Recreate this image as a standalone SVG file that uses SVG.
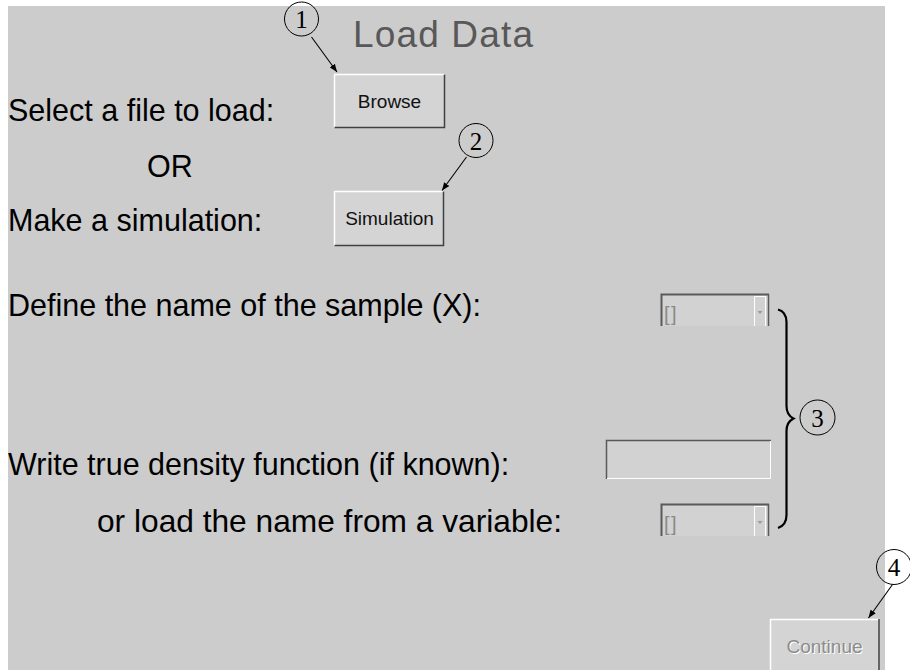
<svg xmlns="http://www.w3.org/2000/svg" width="910" height="670" viewBox="0 0 910 670">
<defs>
<style>
.lbl{font-family:"Liberation Sans",Arial,sans-serif;font-size:30.5px;fill:#000}
.btn{font-family:"Liberation Sans",Arial,sans-serif;font-size:19px;fill:#111;text-anchor:middle}
.face{fill:#d4d4d4}
.hi{fill:none;stroke:#fff;stroke-width:1.5}
.lo{fill:none;stroke:#404040;stroke-width:1.5}
.num{font-family:"Liberation Serif","DejaVu Serif",serif;font-size:25px;fill:#000;text-anchor:middle}
.circ{fill:none;stroke:#000;stroke-width:1}
.conn{fill:none;stroke:#000;stroke-width:1.1}
.combo{font-family:"Liberation Sans",Arial,sans-serif;font-size:20px;fill:#8a8a8a;letter-spacing:1.5px}
</style>
<marker id="ah" viewBox="0 0 10 10" refX="10" refY="5" markerWidth="8" markerHeight="8" orient="auto" markerUnits="userSpaceOnUse">
<path d="M0,1 L10,5 L0,9 z" fill="#000"/>
</marker>
</defs>
<rect x="8" y="6" width="877" height="664" fill="#cccccc"/>
<text x="353" y="47" font-family="'Liberation Sans',Arial,sans-serif" font-size="37" fill="#585858" textLength="180">Load Data</text>
<text class="lbl" x="8" y="121">Select a file to load:</text>
<text class="lbl" x="147" y="177">OR</text>
<text class="lbl" x="8" y="231">Make a simulation:</text>
<text class="lbl" x="8" y="316">Define the name of the sample (X):</text>
<text class="lbl" x="8" y="475">Write true density function (if known):</text>
<text class="lbl" x="97" y="532" style="font-size:31.7px">or load the name from a variable:</text>

<g id="browse">
<rect class="face" x="334" y="74" width="111" height="54"/>
<polyline class="hi" points="334.5,128 334.5,74.5 445,74.5"/>
<polyline class="lo" points="334.5,127.5 444.5,127.5 444.5,74.5"/>
<text class="btn" x="389.5" y="108">Browse</text>
</g>
<g id="simulation">
<rect class="face" x="334" y="191" width="110" height="55"/>
<polyline class="hi" points="334.5,246 334.5,191.5 444,191.5"/>
<polyline class="lo" points="334.5,245.5 443.5,245.5 443.5,191.5"/>
<text class="btn" x="389.5" y="225">Simulation</text>
</g>
<g id="combo1">
<rect x="661" y="294" width="108" height="32" fill="#d2d2d2"/>
<polyline points="661.5,326 661.5,294.5 769,294.5" fill="none" stroke="#5a5a5a" stroke-width="2"/>
<line x1="768.5" y1="294" x2="768.5" y2="326" stroke="#5a5a5a" stroke-width="1.5"/>
<polyline points="754.5,326 754.5,296.5 766,296.5" fill="none" stroke="#fff" stroke-width="1"/>
<line x1="765.5" y1="297" x2="765.5" y2="326" stroke="#fff" stroke-width="1"/>
<path d="M757.5,311 L762.5,311 L760,314 z" fill="#9a9a9a"/>
<text class="combo" x="664" y="321">[]</text>
</g>
<g id="textinput">
<rect x="606" y="440" width="165" height="39" fill="#d2d2d2"/>
<polyline points="606.5,479 606.5,440.5 771,440.5" fill="none" stroke="#5a5a5a" stroke-width="1.5"/>
<polyline points="607,478.5 770.5,478.5 770.5,441" fill="none" stroke="#fff" stroke-width="1"/>
</g>
<g id="combo2">
<rect x="661" y="504" width="108" height="32" fill="#d2d2d2"/>
<polyline points="661.5,536 661.5,504.5 769,504.5" fill="none" stroke="#5a5a5a" stroke-width="2"/>
<line x1="768.5" y1="504" x2="768.5" y2="536" stroke="#5a5a5a" stroke-width="1.5"/>
<polyline points="754.5,536 754.5,506.5 766,506.5" fill="none" stroke="#fff" stroke-width="1"/>
<line x1="765.5" y1="507" x2="765.5" y2="536" stroke="#fff" stroke-width="1"/>
<path d="M757.5,521 L762.5,521 L760,524 z" fill="#9a9a9a"/>
<text class="combo" x="664" y="531">[]</text>
</g>
<g id="continue">
<rect class="face" x="770" y="619" width="110" height="51"/>
<polyline class="hi" points="770.5,670 770.5,619.5 879,619.5"/>
<line x1="879" y1="619" x2="879" y2="670" stroke="#404040" stroke-width="1.5"/>
<text class="btn" x="825.5" y="654" style="fill:#fff">Continue</text>
<text class="btn" x="824.5" y="653" style="fill:#8c8c8c">Continue</text>
</g>
<g id="brace">
<path d="M778,309.5 Q786.5,312 786.5,322 L786.5,406 Q786.5,415 793.5,418.5 Q786.5,422 786.5,431 L786.5,515 Q786.5,525 778,528" fill="none" stroke="#000" stroke-width="2.2"/>
</g>
<g id="callout1">
<circle class="circ" cx="301.5" cy="19" r="17"/>
<text class="num" x="301.5" y="28">1</text>
</g>
<g id="callout2">
<circle class="circ" cx="476" cy="140.5" r="17"/>
<text class="num" x="476" y="149.5">2</text>
</g>
<g id="callout3">
<circle class="circ" cx="817.5" cy="417.5" r="17.5"/>
<text class="num" x="817.5" y="426.5">3</text>
</g>
<g id="callout4">
<circle class="circ" cx="894" cy="567" r="17.5"/>
<text class="num" x="894" y="576">4</text>
</g>
<g id="connectors">
<line class="conn" x1="311.5" y1="37" x2="337" y2="72" marker-end="url(#ah)"/>
<line class="conn" x1="466.5" y1="157" x2="442" y2="190.5" marker-end="url(#ah)"/>
<line class="conn" x1="892.5" y1="584.5" x2="868.5" y2="618" marker-end="url(#ah)"/>
</g>
</svg>
